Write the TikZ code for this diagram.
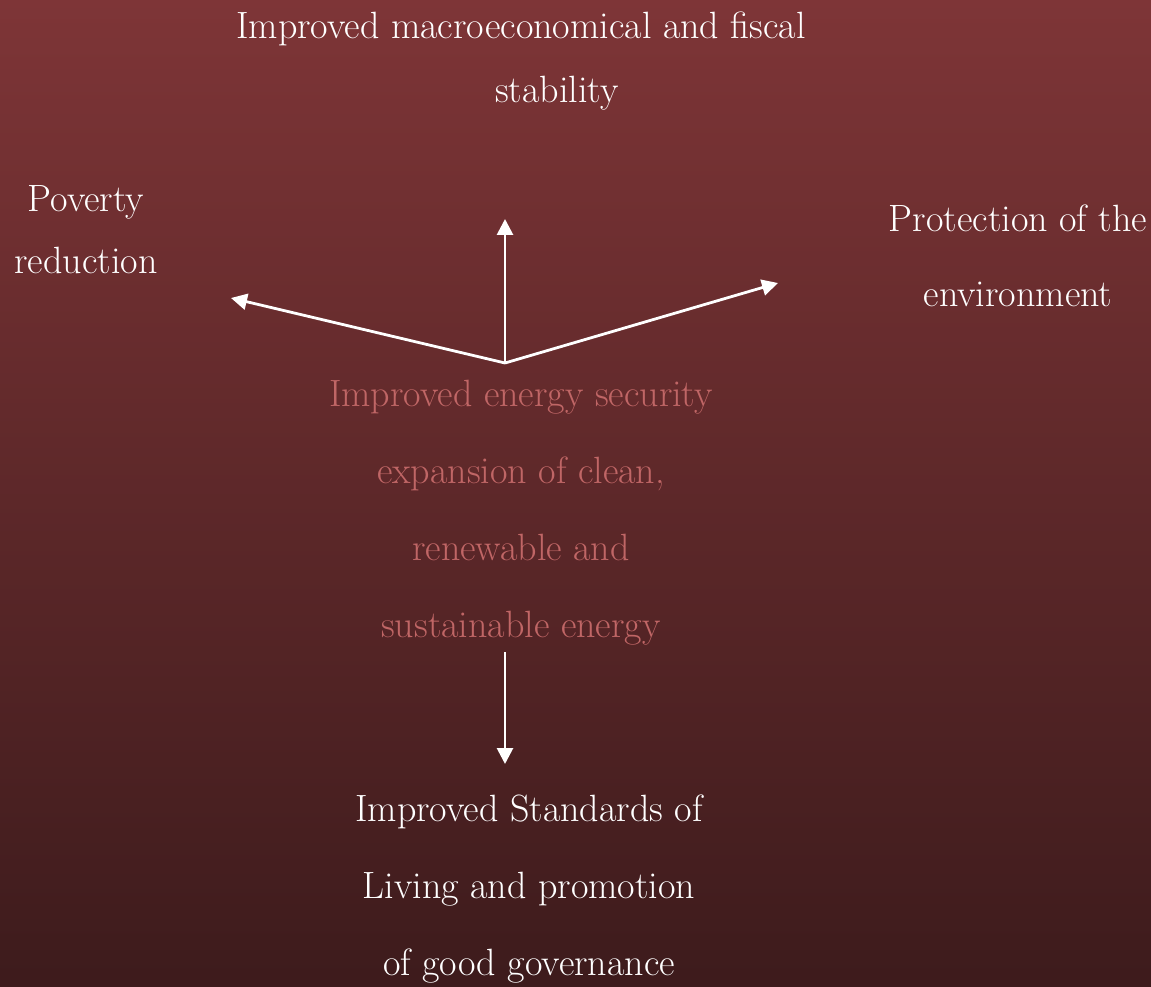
\documentclass[tikz,border=0pt]{standalone}
\usetikzlibrary{arrows.meta}
\definecolor{bgtop}{RGB}{126,53,55}
\definecolor{bgbot}{RGB}{61,27,28}
\definecolor{pale}{RGB}{192,102,102}
\begin{document}
\begin{tikzpicture}[x=1pt,y=-1pt,
  lbl/.style={text=white,align=center,inner sep=0pt,anchor=base},
  link/.style={draw=white,line width=2.8pt,-{Triangle[length=16pt,width=16pt]}}]
% backdrop with vertical gradient
\shade[top color=bgtop,bottom color=bgbot] (0,0) rectangle (1151,987);
\useasboundingbox (0,0) rectangle (1151,987);

% outcome labels (placed by the baseline of their last line)
\node[lbl,font=\fontsize{38}{64}\selectfont] (fiscal) at (521,103)
  {Improved macroeconomical and fiscal\\\hspace*{72pt}stability};
\node[lbl,font=\fontsize{38}{62}\selectfont] (pov) at (86,273)
  {Poverty\\reduction};
\node[lbl,font=\fontsize{38}{75}\selectfont] (env) at (1018,306)
  {Protection of the\\environment};
\node[lbl,text=pale,font=\fontsize{38}{77}\selectfont] (core) at (521,637)
  {Improved energy security\\expansion of clean,\\renewable and\\sustainable energy};
\node[lbl,font=\fontsize{38}{77}\selectfont] (life) at (529,975)
  {Improved Standards of\\Living and promotion\\of good governance};

% arrow ends
\coordinate (hub) at (505,363);
\coordinate (tipup) at (505,219);
\coordinate (tipleft) at (231,298);
\coordinate (tipright) at (778,283);
\coordinate (downstart) at (505,652);
\coordinate (tipdown) at (505,764);

\draw[link] (hub) -- (tipup);
\draw[link] (hub) -- (tipleft);
\draw[link] (hub) -- (tipright);
\draw[link] (downstart) -- (tipdown);
\end{tikzpicture}
\end{document}
